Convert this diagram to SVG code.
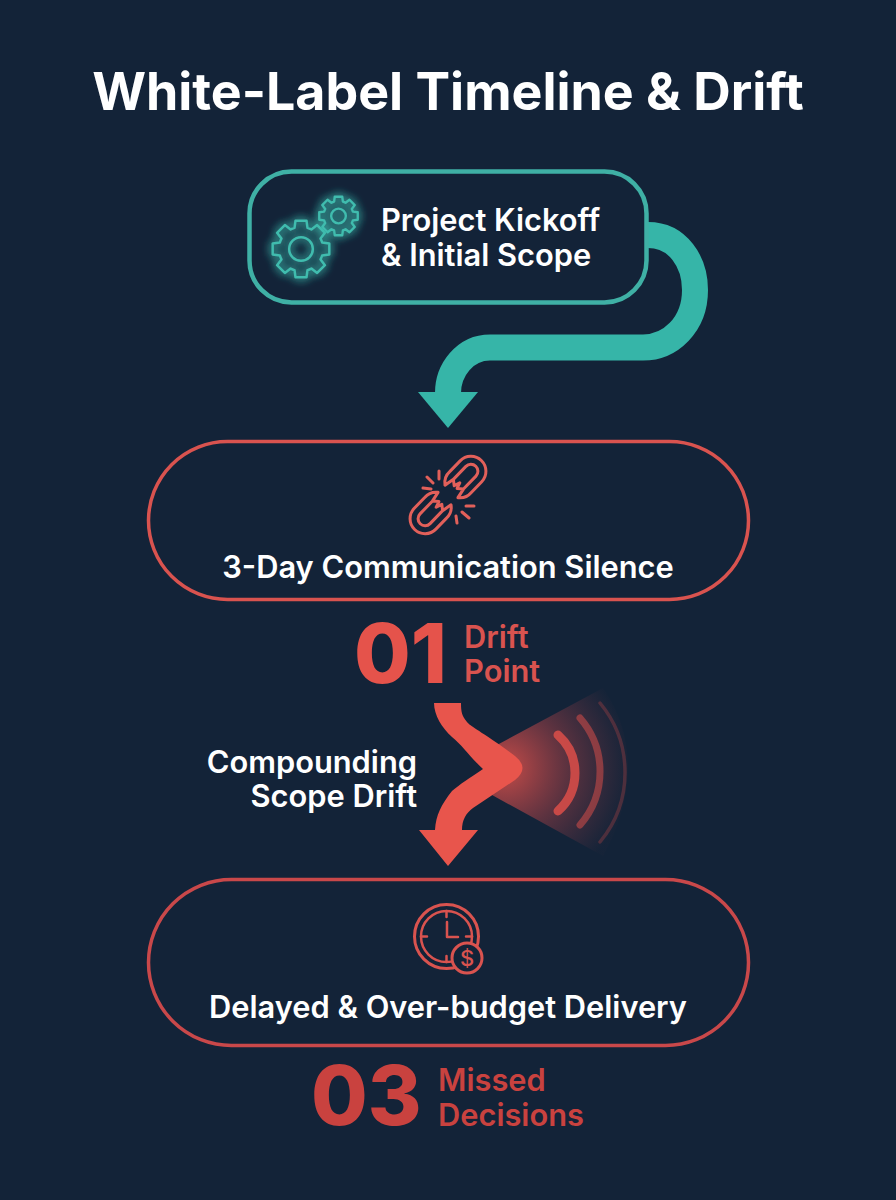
<svg xmlns="http://www.w3.org/2000/svg" width="896" height="1200" viewBox="0 0 896 1200">
<style>
text{font-family:Inter,"Liberation Sans",sans-serif}
.w{fill:#fff;font-weight:600;font-size:30.8px}
.c{text-anchor:middle}
.e{text-anchor:end}
.big{font-weight:800;font-size:82px}
.sub{font-weight:600;font-size:30.8px}
.icon{fill:none;stroke-linecap:round;stroke-linejoin:round}
.node{fill:none}
</style>
<defs>
<path id="gear" d="M20.56-6.29L27.49-5.34V5.34L20.56 6.29A21.500 21.500 0 0 1 18.99 10.09L23.21 15.66L15.66 23.21L10.09 18.99A21.500 21.500 0 0 1 6.29 20.56L5.34 27.49H-5.34L-6.29 20.56A21.500 21.500 0 0 1-10.09 18.99L-15.66 23.21L-23.21 15.66L-18.99 10.09A21.500 21.500 0 0 1-20.56 6.29L-27.49 5.34V-5.34L-20.56-6.29A21.500 21.500 0 0 1-18.99-10.09L-23.21-15.66L-15.66-23.21L-10.09-18.99A21.500 21.500 0 0 1-6.29-20.56L-5.34-27.49H5.34L6.29-20.56A21.500 21.500 0 0 1 10.09-18.99L15.66-23.21L23.21-15.66L18.99-10.09A21.500 21.500 0 0 1 20.56-6.29Z"/>
<filter id="glow" x="-30%" y="-30%" width="160%" height="160%"><feGaussianBlur stdDeviation="5" result="b"/><feMerge><feMergeNode in="b"/><feMergeNode in="b"/><feMergeNode in="SourceGraphic"/></feMerge></filter>
<radialGradient id="fan" gradientUnits="userSpaceOnUse" cx="505" cy="768" r="125"><stop offset="0" stop-color="#e5534b" stop-opacity=".85"/><stop offset=".5" stop-color="#c0474a" stop-opacity=".42"/><stop offset="1" stop-color="#a04048" stop-opacity=".02"/></radialGradient>
<path id="lk" d="M5-9A15 15 0 0 1 18-15H33A15 15 0 0 1 33 15H18A15 15 0 0 1 5 9L15 7L11 2L17 0L11-2L15-7ZM15-7H33A7 7 0 0 1 33 7H15"/>
</defs>
<rect id="background" width="896" height="1200" fill="#132338"/>
<text id="title" x="448" y="110" class="c" fill="#fff" font-weight="700" font-size="51.900">White-Label Timeline &amp; Drift</text>
<g id="connectors">
<path id="teal-arrow" d="M648 235C678 235 695 262 695 290C695 325 670 347.500 643 347.500H490C465 347.500 448 370 448 393" fill="none" stroke="#36b5a8" stroke-width="26"/>
<path id="teal-head" d="M418 392H478L448 428Z" fill="#36b5a8"/>
<path id="fan-wedge" d="M497 745L603 688C640 740 632 805 603 856L492 795Z" fill="url(#fan)"/>
<g fill="none" stroke-linecap="round">
<path d="M558 735A51 51 0 0 1 558 811" stroke="#d54d48" stroke-width="9" opacity=".9"/>
<path d="M580 718A81.500 81.500 0 0 1 580 825" stroke="#d54d48" stroke-width="7" opacity=".55"/>
<path d="M600 703A109 109 0 0 1 600 842" stroke="#d54d48" stroke-width="3.500" opacity=".28"/>
</g>
<path id="red-arrow" d="M434 703H461C461 712 462 716 467 722C470 726 480 731 500 745L515 756Q530 768 515 780L473 808C466 813 462 820 462 830H478L448 866L419 830H435C436 815 441 805 452 791C460 784 470 778 483 769C470 757 462 745 452 737C442 728 434 715 434 703Z" fill="#e8554c"/>
</g>
<g id="node-kickoff">
<rect class="node" x="249.500" y="171.500" width="397" height="131" rx="42" stroke="#3fb0a5" stroke-width="4.500"/>
<g class="icon" stroke="#3fbcae" filter="url(#glow)">
<g transform="translate(301 249) scale(1.030)" stroke-width="2.400"><use href="#gear"/><circle r="11.500"/></g>
<g transform="translate(338.500 216) scale(.7)" stroke-width="3.400"><use href="#gear"/><circle r="10.500"/></g>
</g>
<text class="w" x="381" y="231">Project Kickoff</text>
<text class="w" x="381" y="266">&amp; Initial Scope</text>
</g>
<g id="node-silence">
<rect class="node" x="148.500" y="441.500" width="600" height="158" rx="79" stroke="#d9534f" stroke-width="3.500"/>
<g class="icon" stroke="#e2605a" stroke-width="3">
<g transform="translate(448 495) rotate(-46)"><use href="#lk"/></g>
<g transform="translate(448 495) rotate(134)"><use href="#lk"/></g>
<path d="M423 488L431 489M427 477L433 483M439 471V479M466 506H474M462 512L469 518M456 516L457 523"/>
</g>
<text class="w c" x="448" y="578">3-Day Communication Silence</text>
</g>
<g id="label-drift-point">
<text class="big" x="354" y="683" fill="#e5534b">01</text>
<text class="sub" x="464" y="648" fill="#d9534f">Drift</text>
<text class="sub" x="464" y="682" fill="#d9534f">Point</text>
</g>
<g id="label-compounding">
<text class="w e" x="417" y="773">Compounding</text>
<text class="w e" x="417" y="807">Scope Drift</text>
</g>
<g id="node-delivery">
<rect class="node" x="148.500" y="879.500" width="600" height="166" rx="83" stroke="#c9484a" stroke-width="3.500"/>
<g class="icon" stroke="#d9534f">
<circle cx="446.500" cy="936.500" r="32" stroke-width="3"/>
<circle cx="446.500" cy="936.500" r="25.500" stroke-width="2.500"/>
<path d="M446.500 911V917M421 936.500H427M466 936.500H472M446.500 956V962M447 922V937H458" stroke-width="2.500"/>
<circle cx="467" cy="958" r="15" fill="#132338" stroke-width="3"/>
</g>
<text x="467" y="966" class="c" fill="#d9534f" font-size="22" font-weight="500">$</text>
<text class="w c" x="448" y="1018">Delayed &amp; Over-budget Delivery</text>
</g>
<g id="label-missed">
<text class="big" x="311" y="1125" fill="#c9423f">03</text>
<text class="sub" x="438" y="1091" fill="#c9423f">Missed</text>
<text class="sub" x="438" y="1126" fill="#c9423f">Decisions</text>
</g>
</svg>
